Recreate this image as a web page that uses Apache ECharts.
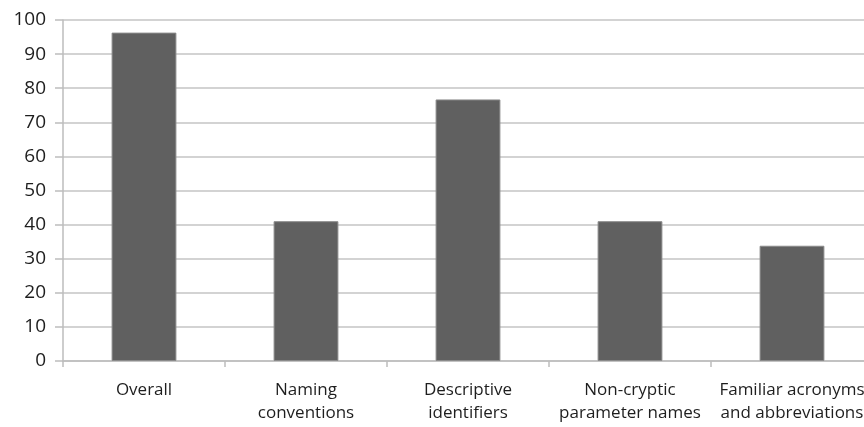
<!DOCTYPE html>
<html>
<head>
<meta charset="utf-8">
<script src="https://cdn.jsdelivr.net/npm/echarts@6/dist/echarts.min.js"></script>
<style>
  html, body { margin: 0; padding: 0; background: #fff; overflow: hidden; width: 864px; height: 427px; }
  #chart { width: 880px; height: 427px; }
</style>
</head>
<body>
<div id="chart"></div>
<script>
const categories = [
  'Overall',
  'Naming\nconventions',
  'Descriptive\nidentifiers',
  'Non-cryptic\nparameter names',
  'Familiar acronyms\nand abbreviations'
];
const values = [96.3, 41, 76.7, 41, 33.8];
const yTicks = { min: 0, max: 100, interval: 10 };

const chart = echarts.init(document.getElementById('chart'), null, { renderer: 'canvas' });
chart.setOption({
  animation: false,
  grid: { left: 63, right: 7, top: 20, bottom: 66, containLabel: false },
  xAxis: {
    type: 'category',
    data: categories,
    axisLine: { lineStyle: { color: '#bdbdbd', width: 1.5 } },
    axisTick: { show: true, length: 6, lineStyle: { color: '#bdbdbd', width: 1.5 } },
    axisLabel: {
      color: '#1e1e1e',
      fontFamily: 'Open Sans',
      fontSize: 17,
      lineHeight: 23,
      margin: 18,
      interval: 0
    }
  },
  yAxis: {
    type: 'value',
    min: yTicks.min,
    max: yTicks.max,
    interval: yTicks.interval,
    axisLine: { show: true, lineStyle: { color: '#bdbdbd', width: 1.5 } },
    axisTick: { show: true, length: 8, lineStyle: { color: '#bdbdbd', width: 1.5 } },
    axisLabel: { color: '#1e1e1e', fontFamily: 'Open Sans', fontSize: 19, margin: 17 },
    splitLine: { lineStyle: { color: '#c4c4c4', width: 1.5 } }
  },
  series: [{
    type: 'bar',
    data: values,
    barWidth: '40%',
    itemStyle: { color: '#606060', borderColor: '#8a8a8a', borderWidth: 1 }
  }]
});
</script>
</body>
</html>
